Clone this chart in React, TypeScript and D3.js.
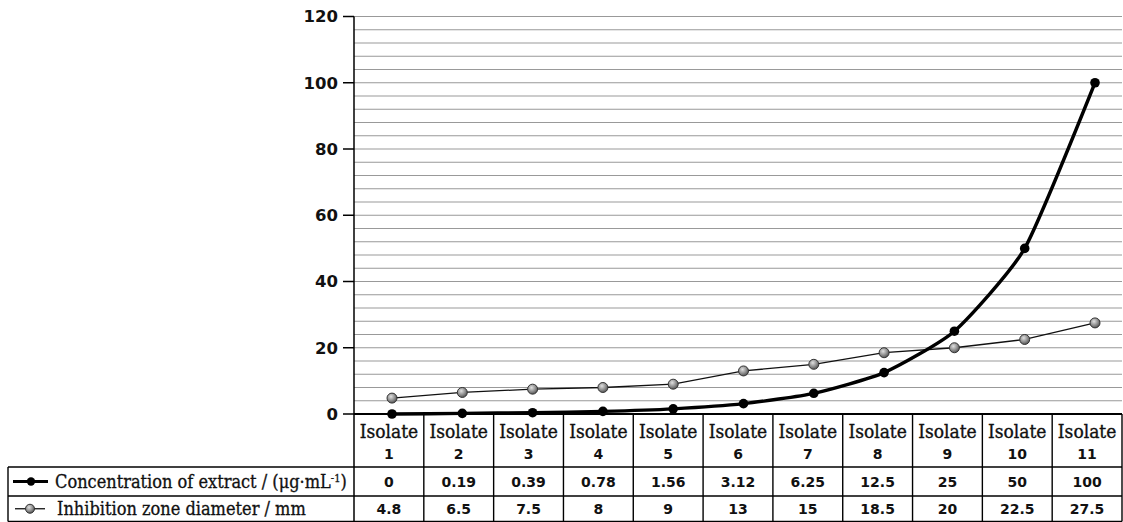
import React from "react";
import * as d3 from "d3";

const isolates = ["1", "2", "3", "4", "5", "6", "7", "8", "9", "10", "11"];
const concentration = [0, 0.19, 0.39, 0.78, 1.56, 3.12, 6.25, 12.5, 25, 50, 100];
const concentrationLabels = ["0", "0.19", "0.39", "0.78", "1.56", "3.12", "6.25", "12.5", "25", "50", "100"];
const inhibition = [4.8, 6.5, 7.5, 8, 9, 13, 15, 18.5, 20, 22.5, 27.5];
const inhibitionLabels = ["4.8", "6.5", "7.5", "8", "9", "13", "15", "18.5", "20", "22.5", "27.5"];
const yTicks = [0, 20, 40, 60, 80, 100, 120];
const gridValues = d3.range(4, 121, 4);

const SERIF = "'DejaVu Serif Condensed', 'DejaVu Serif', serif";
const SANS = "'DejaVu Sans', sans-serif";

export default function App() {
  const W = 1123, H = 522;
  const axisX = 354, rightX = 1122;
  const y = d3.scaleLinear().domain([0, 120]).range([414, 16.5]);
  const xp = d3.scalePoint<string>().domain(isolates).range([392, 1095]);
  const xb = d3.scaleBand<string>().domain(isolates).range([axisX, rightX]).padding(0);

  const concLine = d3
    .line<number>()
    .x((_, i) => xp(isolates[i])!)
    .y((d) => y(d))
    .curve(d3.curveCardinal.tension(0.45));
  const inhLine = d3
    .line<number>()
    .x((_, i) => xp(isolates[i])!)
    .y((d) => y(d));

  const rowTop = 414, rowHead = 467, rowConc = 496, rowBot = 521.5;
  const tableLeft = 8;
  const serifStyle = { fontStretch: "condensed" as const };

  return (
    <svg width={W} height={H} style={{ position: "absolute", left: 0, top: 0, background: "#fff" }}>
      <defs>
        <radialGradient id="ball" cx="40%" cy="35%" r="65%">
          <stop offset="0%" stopColor="#e0e0e0" />
          <stop offset="60%" stopColor="#8f8f8f" />
          <stop offset="100%" stopColor="#555" />
        </radialGradient>
      </defs>
      {/* grid */}
      {gridValues.map((v) => (
        <line key={v} x1={axisX} x2={rightX} y1={y(v)} y2={y(v)} stroke="#999" strokeWidth={1.2} />
      ))}
      {/* y axis */}
      <line x1={axisX} x2={axisX} y1={y(120)} y2={rowBot} stroke="#000" strokeWidth={1.5} />
      {yTicks.map((t) => (
        <g key={t}>
          <line x1={343} x2={axisX} y1={y(t)} y2={y(t)} stroke="#000" strokeWidth={1.5} />
          <text x={338} y={y(t)} dy="0.36em" textAnchor="end" fontFamily={SANS} fontWeight="bold" fontSize={16.5} fill="#111">
            {t}
          </text>
        </g>
      ))}
      {/* series */}
      <path d={inhLine(inhibition)!} fill="none" stroke="#111" strokeWidth={1.3} />
      <path d={concLine(concentration)!} fill="none" stroke="#000" strokeWidth={3.4} strokeLinejoin="round" />
      {inhibition.map((v, i) => (
        <circle key={"i" + i} cx={xp(isolates[i])} cy={y(v)} r={5} fill="url(#ball)" stroke="#333" strokeWidth={1} />
      ))}
      {concentration.map((v, i) => (
        <circle key={"c" + i} cx={xp(isolates[i])} cy={y(v)} r={4.8} fill="#000" />
      ))}

      {/* table */}
      <g stroke="#000" strokeWidth={1.4} fill="none">
        <line x1={axisX} x2={rightX} y1={rowTop} y2={rowTop} strokeWidth={1.8} />
        <line x1={tableLeft} x2={rightX} y1={rowHead} y2={rowHead} />
        <line x1={tableLeft} x2={rightX} y1={rowConc} y2={rowConc} />
        <line x1={tableLeft} x2={rightX} y1={rowBot} y2={rowBot} />
        <line x1={tableLeft} x2={tableLeft} y1={rowHead} y2={rowBot} />
        {isolates.map((c) => (
          <line key={c} x1={xb(c)! + xb.bandwidth()} x2={xb(c)! + xb.bandwidth()} y1={rowTop} y2={rowBot} />
        ))}
      </g>
      {isolates.map((c, i) => {
        const cx = xb(c)! + xb.bandwidth() / 2;
        return (
          <g key={"h" + c}>
            <text x={cx} y={438} textAnchor="middle" fontFamily={SERIF} style={serifStyle} fontSize={19} fill="#111" stroke="#111" strokeWidth={0.35}>
              Isolate
            </text>
            <text x={cx} y={459} textAnchor="middle" fontFamily={SANS} fontWeight="bold" fontSize={14} fill="#111">
              {c}
            </text>
            <text x={cx} y={(rowHead + rowConc) / 2} dy="0.36em" textAnchor="middle" fontFamily={SANS} fontWeight="bold" fontSize={14} fill="#111">
              {concentrationLabels[i]}
            </text>
            <text x={cx} y={(rowConc + rowBot) / 2} dy="0.36em" textAnchor="middle" fontFamily={SANS} fontWeight="bold" fontSize={14} fill="#111">
              {inhibitionLabels[i]}
            </text>
          </g>
        );
      })}
      {/* legend cells */}
      <g>
        <line x1={13} x2={48} y1={(rowHead + rowConc) / 2} y2={(rowHead + rowConc) / 2} stroke="#000" strokeWidth={3} />
        <circle cx={31} cy={(rowHead + rowConc) / 2} r={4.2} fill="#000" />
        <text x={55} y={(rowHead + rowConc) / 2} dy="0.34em" fontFamily={SERIF} style={serifStyle} fontSize={18} fill="#111" stroke="#111" strokeWidth={0.3}>
          Concentration of extract / (μg·mL
          <tspan fontSize={11} dy="-6">-1</tspan>
          <tspan dy="6">)</tspan>
        </text>
        <line x1={15} x2={45} y1={(rowConc + rowBot) / 2} y2={(rowConc + rowBot) / 2} stroke="#111" strokeWidth={1.3} />
        <circle cx={30} cy={(rowConc + rowBot) / 2} r={4.5} fill="url(#ball)" stroke="#333" strokeWidth={1} />
        <text x={57} y={(rowConc + rowBot) / 2} dy="0.34em" fontFamily={SERIF} style={serifStyle} fontSize={18} fill="#111" stroke="#111" strokeWidth={0.3}>
          Inhibition zone diameter / mm
        </text>
      </g>
    </svg>
  );
}
